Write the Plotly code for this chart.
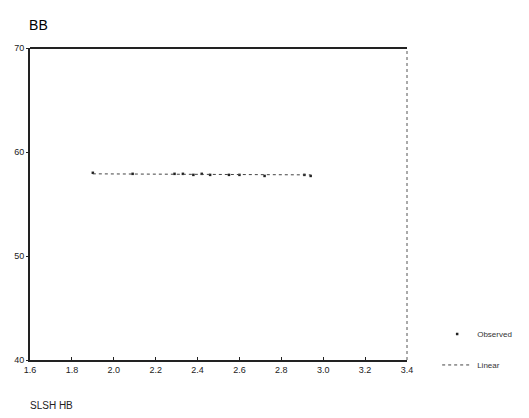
import plotly.graph_objects as go

obs_x = [1.90, 2.09, 2.29, 2.33, 2.38, 2.42, 2.46, 2.55, 2.60, 2.72, 2.91, 2.94]
obs_y = [58.0, 57.9, 57.9, 57.9, 57.8, 57.9, 57.8, 57.8, 57.8, 57.7, 57.8, 57.7]
lin_x = [1.90, 2.94]
lin_y = [57.9, 57.8]
x_ticks = [1.6, 1.8, 2.0, 2.2, 2.4, 2.6, 2.8, 3.0, 3.2, 3.4]
y_ticks = [40, 50, 60, 70]

fig = go.Figure()
fig.add_trace(go.Scatter(x=obs_x, y=obs_y, mode="markers", name="Observed",
                         legendgroup="a",
                         marker=dict(color="#222", size=2.5, symbol="square")))
fig.add_trace(go.Scatter(x=lin_x, y=lin_y, mode="lines", name="Linear",
                         legendgroup="b",
                         line=dict(color="#444", width=1, dash="dot")))

fig.update_layout(
    width=529, height=418,
    margin=dict(l=30, r=93, t=48, b=58),
    plot_bgcolor="white", paper_bgcolor="white",
    font=dict(family="Liberation Sans, Arial", color="#111"),
    title=dict(text="BB", x=0.055, xanchor="left", y=0.94, yanchor="middle",
               font=dict(size=14, color="#000")),
    showlegend=True,
    legend=dict(x=1.08, y=0.13, xanchor="left", yanchor="top",
                font=dict(size=8, color="#333"), bgcolor="rgba(0,0,0,0)",
                itemwidth=30, tracegroupgap=12),
    xaxis=dict(range=[1.6, 3.4], tickvals=x_ticks, tickformat=".1f",
               showgrid=False, zeroline=False, showline=True, linecolor="#222",
               linewidth=2, ticks="inside", ticklen=3, tickcolor="#222",
               tickfont=dict(size=9, color="#222"), mirror=False),
    yaxis=dict(range=[40, 70], tickvals=y_ticks,
               showgrid=False, zeroline=False, showline=True, linecolor="#222",
               linewidth=2, ticks="outside", ticklen=2, tickcolor="#222",
               tickfont=dict(size=9, color="#222")),
    shapes=[
        dict(type="line", xref="paper", yref="paper", x0=0, x1=1, y0=1, y1=1,
             line=dict(color="#222", width=2)),
        dict(type="line", xref="paper", yref="paper", x0=1, x1=1, y0=0, y1=1,
             line=dict(color="#555", width=1, dash="dot")),
    ],
    annotations=[
        dict(text="SLSH HB", xref="paper", yref="paper", x=-0.005, y=-0.145,
             xanchor="left", yanchor="middle", showarrow=False,
             font=dict(size=10, color="#222")),
    ],
)

fig.write_html("out.html")
